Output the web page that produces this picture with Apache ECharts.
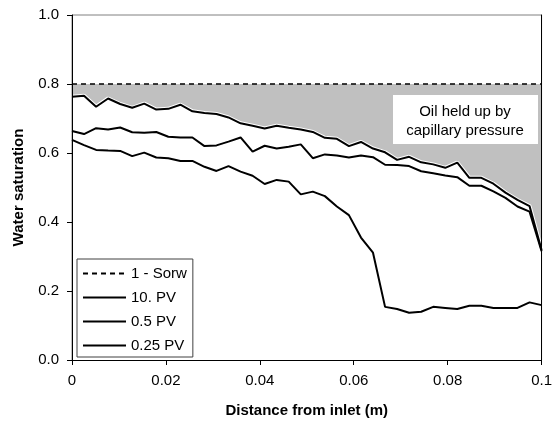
<!DOCTYPE html>
<html>
<head>
<meta charset="utf-8">
<script src="https://cdn.jsdelivr.net/npm/echarts@6/dist/echarts.min.js"></script>
<style>
html,body{margin:0;padding:0;background:#fff;}
#chart{width:555px;height:423px;}
</style>
</head>
<body>
<div id="chart"></div>
<script>
// Distance from inlet (m)
var distance = [0, 0.00256, 0.00513, 0.00769, 0.01026, 0.01282, 0.01538, 0.01795, 0.02051, 0.02308,
  0.02564, 0.02821, 0.03077, 0.03333, 0.03590, 0.03846, 0.04103, 0.04359, 0.04615, 0.04872,
  0.05128, 0.05385, 0.05641, 0.05897, 0.06154, 0.06410, 0.06667, 0.06923, 0.07179, 0.07436,
  0.07692, 0.07949, 0.08205, 0.08462, 0.08718, 0.08974, 0.09231, 0.09487, 0.09744, 0.1];

// 1 - Sorw
var sorwLine = [0.8, 0.8, 0.8, 0.8, 0.8, 0.8, 0.8, 0.8, 0.8, 0.8,
  0.8, 0.8, 0.8, 0.8, 0.8, 0.8, 0.8, 0.8, 0.8, 0.8,
  0.8, 0.8, 0.8, 0.8, 0.8, 0.8, 0.8, 0.8, 0.8, 0.8,
  0.8, 0.8, 0.8, 0.8, 0.8, 0.8, 0.8, 0.8, 0.8, 0.8];

// 10. PV
var pv10 = [0.763, 0.766, 0.734, 0.758, 0.742, 0.731, 0.743, 0.726, 0.728, 0.740,
  0.721, 0.716, 0.713, 0.703, 0.686, 0.679, 0.671, 0.679, 0.673, 0.668,
  0.661, 0.644, 0.641, 0.620, 0.632, 0.613, 0.602, 0.580, 0.589, 0.573,
  0.567, 0.557, 0.572, 0.528, 0.528, 0.511, 0.485, 0.464, 0.446, 0.319];

// 0.5 PV
var pv05 = [0.664, 0.655, 0.672, 0.668, 0.674, 0.660, 0.659, 0.661, 0.647, 0.645,
  0.645, 0.620, 0.622, 0.633, 0.645, 0.604, 0.621, 0.613, 0.618, 0.625,
  0.585, 0.596, 0.593, 0.587, 0.593, 0.588, 0.566, 0.565, 0.562, 0.547,
  0.541, 0.535, 0.530, 0.505, 0.505, 0.489, 0.470, 0.445, 0.430, 0.315];

// 0.25 PV
var pv025 = [0.638, 0.623, 0.609, 0.607, 0.606, 0.591, 0.601, 0.587, 0.585, 0.577,
  0.577, 0.560, 0.548, 0.562, 0.546, 0.534, 0.510, 0.522, 0.517, 0.480,
  0.488, 0.475, 0.445, 0.420, 0.355, 0.311, 0.154, 0.148, 0.137, 0.140,
  0.154, 0.151, 0.148, 0.157, 0.157, 0.151, 0.151, 0.151, 0.167, 0.159];

var seriesNames = ['1 - Sorw', '10. PV', '0.5 PV', '0.25 PV'];
var xTickLabels = ['0', '0.02', '0.04', '0.06', '0.08', '0.1'];
var yTickLabels = ['0.0', '0.2', '0.4', '0.6', '0.8', '1.0'];
var annotationLines = ['Oil held up by', 'capillary pressure'];

function pairs(ys) {
  return ys.map(function (v, i) { return [distance[i], v]; });
}

var FONT = '"Liberation Sans", Arial, sans-serif';
var chart = echarts.init(document.getElementById('chart'), null, {renderer: 'canvas'});

chart.setOption({
  animation: false,
  backgroundColor: '#fff',
  textStyle: {fontFamily: FONT},
  grid: {
    left: 72, top: 15, width: 472, height: 345,
    show: true, borderColor: '#808080', borderWidth: 1, backgroundColor: 'transparent'
  },
  xAxis: {
    type: 'value', min: 0, max: 0.1, interval: 0.02, z: 10,
    name: 'Distance from inlet (m)', nameLocation: 'middle', nameGap: 43,
    nameTextStyle: {fontFamily: FONT, fontSize: 15, fontWeight: 'bold', color: '#000'},
    axisLine: {show: true, onZero: false, lineStyle: {color: '#000', width: 1}},
    axisTick: {show: true, inside: false, length: 5, lineStyle: {color: '#000'}},
    axisLabel: {
      margin: 13, fontFamily: FONT, fontSize: 15, color: '#000',
      formatter: function (v) { return xTickLabels[Math.round(v / 0.02)]; }
    },
    splitLine: {show: false}
  },
  yAxis: [{
    type: 'value', min: 0, max: 1, interval: 0.2, z: 10,
    name: 'Water saturation', nameLocation: 'middle', nameGap: 46,
    nameTextStyle: {fontFamily: FONT, fontSize: 15, fontWeight: 'bold', color: '#000'},
    axisLine: {show: true, onZero: false, lineStyle: {color: '#000', width: 1}},
    axisTick: {show: true, inside: false, length: 5, lineStyle: {color: '#000'}},
    axisLabel: {
      margin: 13, fontFamily: FONT, fontSize: 15, color: '#000',
      formatter: function (v) { return yTickLabels[Math.round(v / 0.2)]; }
    },
    splitLine: {show: false}
  }, {
    type: 'value', min: 0, max: 1, interval: 0.2, position: 'right', z: 10,
    axisLine: {show: true, onZero: false, lineStyle: {color: '#000', width: 1}},
    axisTick: {show: false}, axisLabel: {show: false}, splitLine: {show: false}
  }],
  legend: {
    orient: 'vertical', left: 77, top: 259,
    data: seriesNames,
    itemWidth: 43, itemHeight: 14, itemGap: 9,
    padding: [7, 6, 4, 5],
    itemStyle: {opacity: 0},
    backgroundColor: '#fff', borderColor: '#404040', borderWidth: 1, borderRadius: 0,
    textStyle: {fontFamily: FONT, fontSize: 15, color: '#000'},
    selectedMode: false
  },
  series: [
    {
      name: seriesNames[0], type: 'line', data: pairs(sorwLine),
      symbol: 'none', z: 2,
      lineStyle: {color: '#000', width: 1.5, type: [5, 4]},
      itemStyle: {color: '#000'},
      areaStyle: {color: '#c0c0c0', opacity: 1}
    },
    {
      name: 'fill', type: 'line', data: pairs(pv10),
      symbol: 'none', z: 2, silent: true,
      lineStyle: {color: '#fff', width: 4},
      itemStyle: {color: '#fff'},
      areaStyle: {color: '#fff', opacity: 1}
    },
    {
      name: seriesNames[1], type: 'line', data: pairs(pv10),
      symbol: 'none', z: 3,
      lineStyle: {color: '#000', width: 2},
      itemStyle: {color: '#000'}
    },
    {
      name: seriesNames[2], type: 'line', data: pairs(pv05),
      symbol: 'none', z: 3,
      lineStyle: {color: '#000', width: 2},
      itemStyle: {color: '#000'}
    },
    {
      name: seriesNames[3], type: 'line', data: pairs(pv025),
      symbol: 'none', z: 3,
      lineStyle: {color: '#000', width: 2},
      itemStyle: {color: '#000'}
    }
  ],
  graphic: [
    {
      type: 'rect', z: 100,
      shape: {x: 393, y: 95, width: 145, height: 49},
      style: {fill: '#fff', stroke: null}
    },
    {
      type: 'text', z: 101, x: 465, y: 102,
      style: {
        text: annotationLines.join('\n'), fill: '#000',
        font: '15px ' + FONT, textAlign: 'center', textVerticalAlign: 'top',
        lineHeight: 19.5
      }
    }
  ]
});
</script>
</body>
</html>
